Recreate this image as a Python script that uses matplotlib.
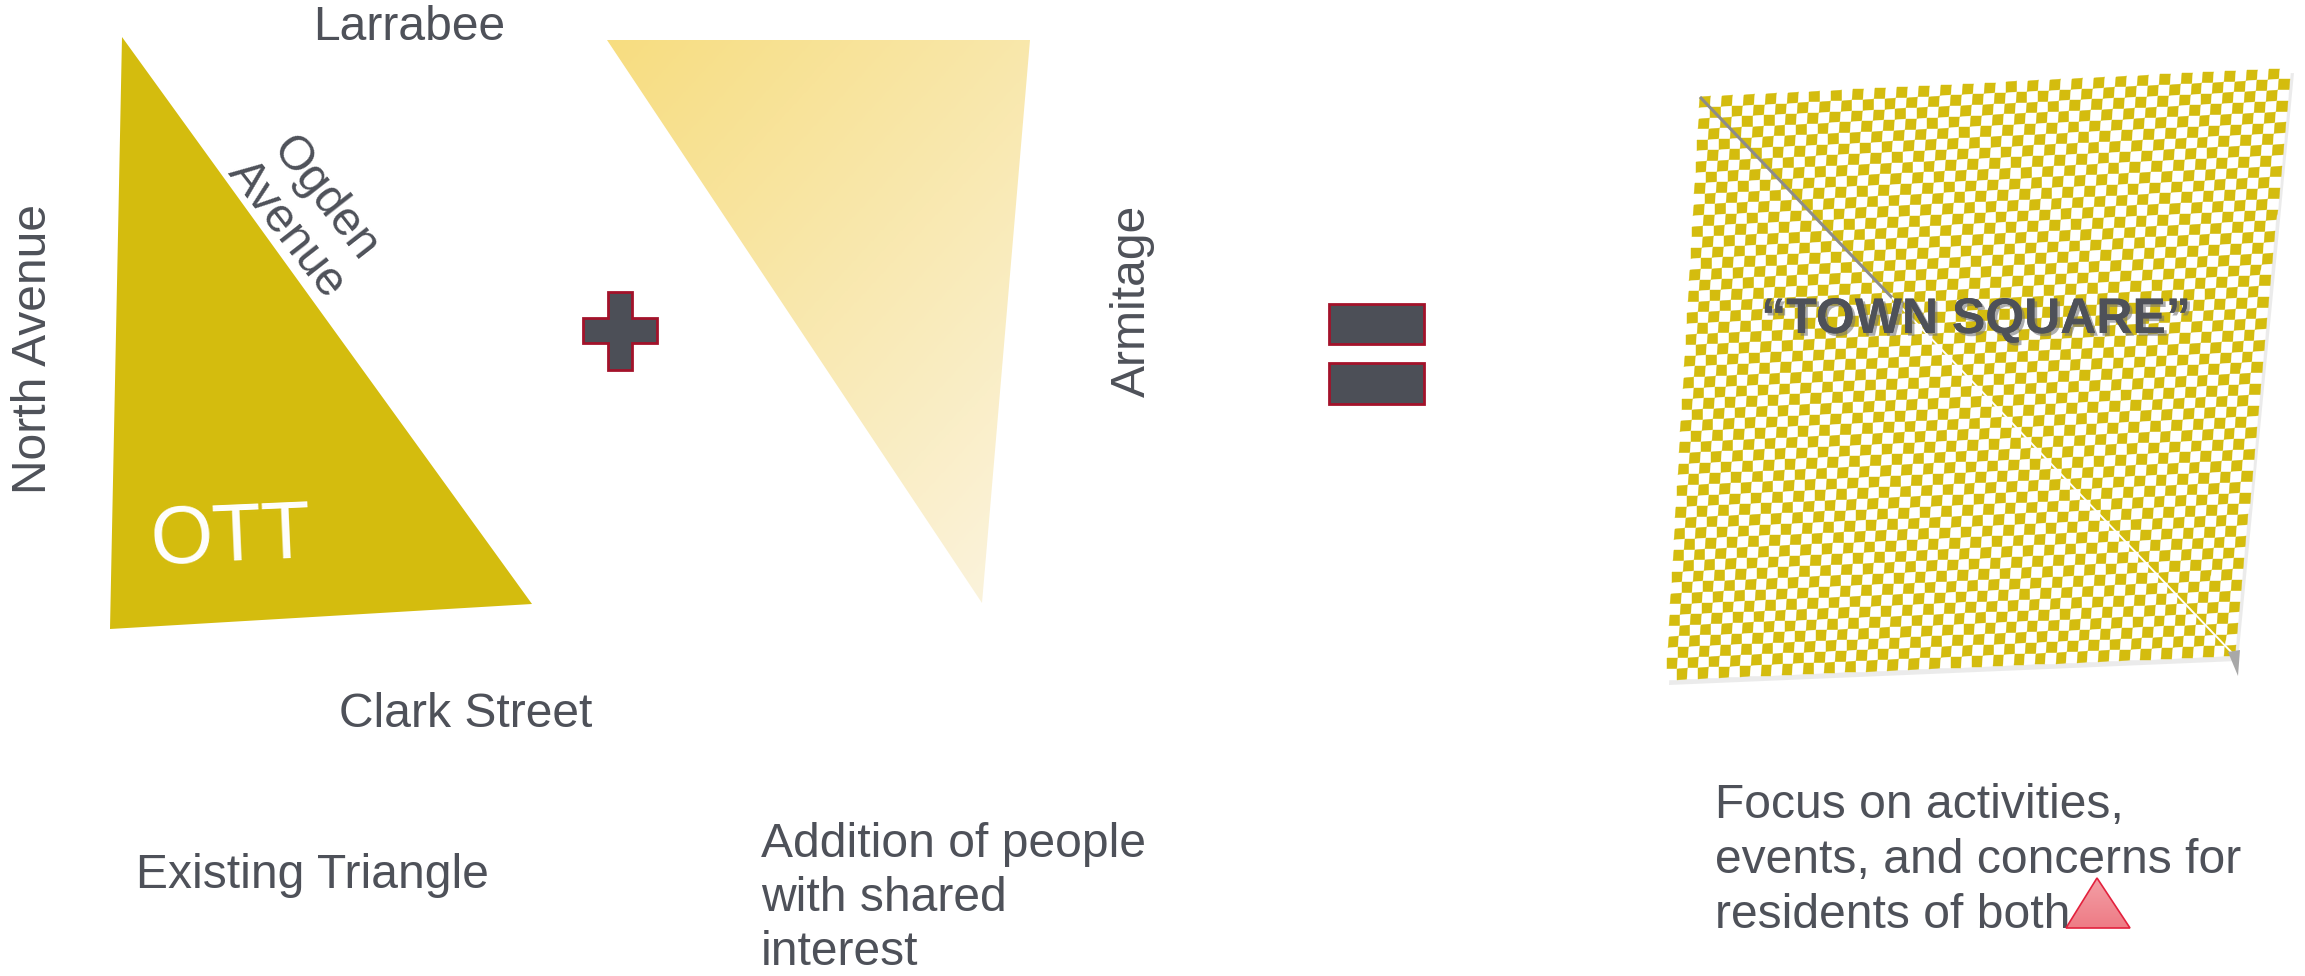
import numpy as np
import matplotlib.pyplot as plt
import matplotlib.patheffects as pe
from matplotlib.patches import Polygon, Rectangle
from matplotlib.colors import LinearSegmentedColormap, ListedColormap

plt.rcParams['font.family'] = ['Liberation Sans', 'DejaVu Sans']

W, H = 2305, 976
TEXT = '#4E5159'
GOLD = '#D4BC0E'
DARK = '#4C4F57'
CRIMSON = '#A3122A'
FS = 34.6

# shapes, in pixel coordinates of the slide
ott_triangle = [(122, 37), (110, 629), (532, 604)]
shared_triangle = [(607, 40), (1030, 40), (982, 603)]
square_corners = [(1700, 97), (2291, 68), (2235, 656), (1666, 680)]  # TL, TR, BR, BL
flag_triangle = [(2066, 928), (2130, 928), (2097, 878)]
plus_x = [608, 632, 632, 657, 657, 632, 632, 608, 608, 583, 583, 608]
plus_y = [292, 292, 318, 318, 343, 343, 370, 370, 343, 343, 318, 318]
equals_bars = [(1329, 304, 95, 40), (1329, 363, 95, 41)]
checker_cells = 54

# labels
street_labels = [
    ('Larrabee', 409, 40, 0),
    ('Clark Street', 466, 727, 0),
]
side_labels = [
    ('North Avenue', 34, 349, 90),
    ('Armitage', 1132, 301, 90),
    ('Ogden\nAvenue', 306, 214, -52),
]
existing_lines = ['Existing Triangle']
addition_lines = ['Addition of people', 'with shared', 'interest']
focus_lines = ['Focus on activities,', 'events, and concerns for', 'residents of both']


def gradient_fill(ax, verts, c0, c1, vertical=False):
    xs = [v[0] for v in verts]
    ys = [v[1] for v in verts]
    x0, x1, y0, y1 = min(xs), max(xs), min(ys), max(ys)
    gx, gy = np.meshgrid(np.linspace(0, 1, 256), np.linspace(0, 1, 256))
    t = gy if vertical else (gx * 0.45 + gy * 0.55)
    cmap = LinearSegmentedColormap.from_list('g', [c0, c1])
    clip = Polygon(verts, closed=True, facecolor='none', edgecolor='none')
    ax.add_patch(clip)
    im = ax.imshow(t, cmap=cmap, extent=(x0, x1, y1, y0), origin='upper',
                   interpolation='bilinear', zorder=2)
    im.set_clip_path(clip)


def checker_board(ax, corners, n):
    tl, tr, br, bl = [np.array(c, dtype=float) for c in corners]
    u, v = np.meshgrid(np.linspace(0, 1, n + 1), np.linspace(0, 1, n + 1))
    pts = (tl[:, None, None] * (1 - u) * (1 - v) + tr[:, None, None] * u * (1 - v)
           + br[:, None, None] * u * v + bl[:, None, None] * (1 - u) * v)
    i, j = np.meshgrid(np.arange(n), np.arange(n))
    cells = (i + j) % 2
    ax.pcolormesh(pts[0], pts[1], cells, cmap=ListedColormap([GOLD, 'white']),
                  shading='flat', antialiased=True, edgecolors='face', linewidth=0.3,
                  zorder=3)


fig = plt.figure(figsize=(W / 100, H / 100), dpi=100)
ax = fig.add_axes([0, 0, 1, 1])
ax.set_xlim(0, W)
ax.set_ylim(H, 0)
ax.axis('off')

# existing triangle
ax.add_patch(Polygon(ott_triangle, closed=True, facecolor=GOLD, edgecolor='none', zorder=2))
ax.text(232, 560, 'OTT', fontsize=58, color='white', ha='center', va='baseline',
        rotation=2.5, rotation_mode='anchor', zorder=4)

# shared interest triangle
gradient_fill(ax, shared_triangle, '#F7DD80', '#FBF4E0')

# plus and equals
ax.add_patch(Polygon(list(zip(plus_x, plus_y)), closed=True, facecolor=DARK,
                     edgecolor=CRIMSON, linewidth=2, zorder=3))
for x, y, w, h in equals_bars:
    ax.add_patch(Rectangle((x, y), w, h, facecolor=DARK, edgecolor=CRIMSON,
                           linewidth=2, zorder=3))

# town square
shadow = [(x + 3, y + 5) for x, y in square_corners]
ax.add_patch(Polygon(shadow, closed=True, facecolor='#C8C8C8', edgecolor='none',
                     alpha=0.35, zorder=2))
checker_board(ax, square_corners, checker_cells)
tl, br = np.array(square_corners[0]), np.array(square_corners[2])
mid = tl + (br - tl) * 0.36
ax.plot([tl[0], mid[0]], [tl[1], mid[1]], color='#8C8C8C', lw=2.2, zorder=4,
        solid_capstyle='butt')
ax.plot([mid[0], br[0]], [mid[1], br[1]], color='white', lw=1.4, zorder=4)
ax.add_patch(Polygon([(2228, 652), (2240, 650), (2238, 676)], closed=True,
                     facecolor='#A8A8A8', edgecolor='none', zorder=4))
ax.text(1976, 333, '\u201cTOWN SQUARE\u201d', fontsize=36, fontweight='bold', color=TEXT,
        ha='center', va='baseline', zorder=5,
        path_effects=[pe.withSimplePatchShadow(offset=(2, -2), shadow_rgbFace='#777777',
                                               alpha=0.6), pe.Normal()])

# small flag triangle
gradient_fill(ax, flag_triangle, '#F3A0A6', '#EE7B85', vertical=True)
ax.add_patch(Polygon(flag_triangle, closed=True, facecolor='none', edgecolor='#E3213D',
                     linewidth=1.2, zorder=4))

# labels
for s, x, y, r in street_labels:
    ax.text(x, y, s, fontsize=FS, color=TEXT, ha='center', va='baseline', rotation=r)
for s, x, y, r in side_labels:
    ax.text(x, y, s, fontsize=FS, color=TEXT, ha='center', va='center', rotation=r,
            multialignment='center', linespacing=1.1, zorder=5)

for k, s in enumerate(existing_lines):
    ax.text(136, 888 + 55 * k, s, fontsize=FS, color=TEXT, ha='left', va='baseline')
for k, s in enumerate(addition_lines):
    ax.text(761, 857 + 54 * k, s, fontsize=FS, color=TEXT, ha='left', va='baseline')
for k, s in enumerate(focus_lines):
    ax.text(1715, 818 + 55 * k, s, fontsize=FS, color=TEXT, ha='left', va='baseline', zorder=3)

fig.savefig('out.png', dpi=100)
